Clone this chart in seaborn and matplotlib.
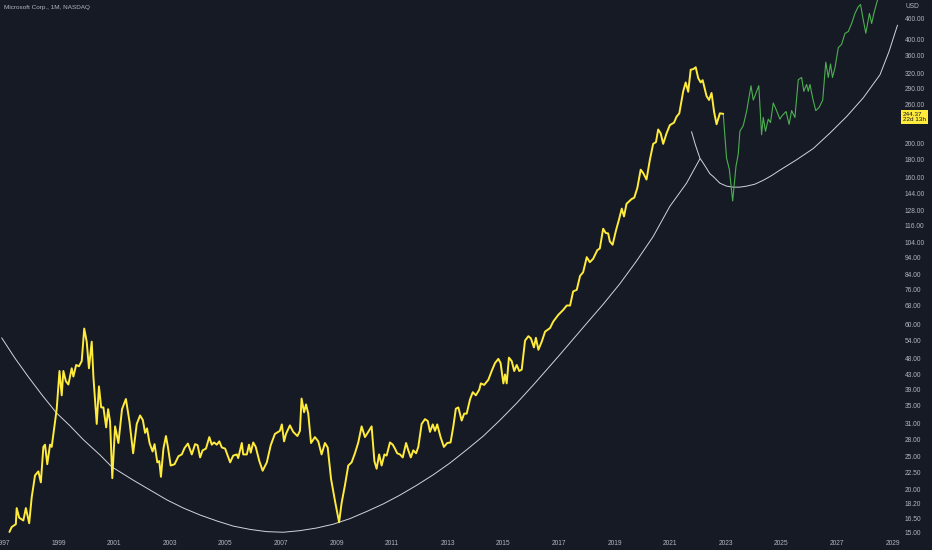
import seaborn as sns
import matplotlib.pyplot as plt
from matplotlib.ticker import NullLocator

# MSFT monthly close, decimal years
msft_year = [1997.23, 1997.31, 1997.46, 1997.49, 1997.58, 1997.73, 1997.82, 1997.94, 1998.03, 1998.15,
             1998.27, 1998.36, 1998.45, 1998.51, 1998.59, 1998.69, 1998.75, 1998.93, 1999.03, 1999.11,
             1999.17, 1999.26, 1999.35, 1999.47, 1999.53, 1999.63, 1999.73, 1999.83, 1999.92, 2000.01,
             2000.09, 2000.19, 2000.25, 2000.37, 2000.45, 2000.53, 2000.61, 2000.71, 2000.78, 2000.85,
             2000.93, 2001.03, 2001.15, 2001.28, 2001.42, 2001.55, 2001.68, 2001.81, 2001.93, 2002.03,
             2002.11, 2002.18, 2002.27, 2002.38, 2002.45, 2002.55, 2002.62, 2002.68, 2002.77, 2002.86,
             2002.93, 2003.03, 2003.17, 2003.31, 2003.43, 2003.53, 2003.65, 2003.79, 2003.91, 2004.00,
             2004.09, 2004.18, 2004.30, 2004.42, 2004.51, 2004.59, 2004.69, 2004.78, 2004.87, 2004.99,
             2005.17, 2005.28, 2005.41, 2005.46, 2005.59, 2005.64, 2005.77, 2005.85, 2005.91, 2006.00,
             2006.09, 2006.22, 2006.34, 2006.49, 2006.63, 2006.78, 2006.96, 2007.03, 2007.11, 2007.18,
             2007.32, 2007.44, 2007.59, 2007.68, 2007.74, 2007.83, 2007.90, 2007.98, 2008.08, 2008.22,
             2008.34, 2008.46, 2008.58, 2008.68, 2008.80, 2008.94, 2009.09, 2009.18, 2009.30, 2009.42,
             2009.54, 2009.66, 2009.78, 2009.90, 2010.02, 2010.14, 2010.26, 2010.36, 2010.44, 2010.53,
             2010.62, 2010.72, 2010.80, 2010.92, 2011.02, 2011.10, 2011.18, 2011.28, 2011.38, 2011.50,
             2011.58, 2011.67, 2011.76, 2011.86, 2011.94, 2012.06, 2012.18, 2012.28, 2012.36, 2012.46,
             2012.54, 2012.62, 2012.74, 2012.86, 2012.98, 2013.10, 2013.20, 2013.29, 2013.38, 2013.50,
             2013.59, 2013.68, 2013.80, 2013.90, 2014.01, 2014.13, 2014.19, 2014.31, 2014.46, 2014.58,
             2014.70, 2014.82, 2014.90, 2015.00, 2015.06, 2015.12, 2015.20, 2015.30, 2015.39, 2015.48,
             2015.57, 2015.66, 2015.78, 2015.90, 2015.99, 2016.10, 2016.17, 2016.26, 2016.38, 2016.50,
             2016.68, 2016.79, 2016.97, 2017.15, 2017.28, 2017.40, 2017.51, 2017.64, 2017.76, 2017.87,
             2018.00, 2018.11, 2018.23, 2018.38, 2018.47, 2018.59, 2018.68, 2018.77, 2018.83, 2018.93,
             2019.05, 2019.16, 2019.26, 2019.34, 2019.43, 2019.61, 2019.71, 2019.82, 2019.94, 2020.03,
             2020.15, 2020.27, 2020.39, 2020.49, 2020.57, 2020.66, 2020.75, 2020.87, 2020.99, 2021.14,
             2021.23, 2021.33, 2021.47, 2021.56, 2021.65, 2021.74, 2021.83, 2021.92, 2022.01, 2022.10,
             2022.17, 2022.31, 2022.40, 2022.49, 2022.58, 2022.67, 2022.79, 2022.91]
msft_price = [15.1, 15.6, 15.9, 17.7, 16.6, 16.3, 17.7, 16.0, 19.0, 22.0,
              22.6, 21.0, 26.6, 27.0, 23.7, 27.0, 26.6, 34.2, 44.1, 37.5,
              44.1, 41.2, 40.3, 44.9, 42.5, 45.9, 45.5, 47.1, 58.5, 53.6,
              44.9, 53.6, 42.5, 31.0, 39.8, 34.6, 34.6, 30.3, 34.2, 31.5,
              21.6, 30.5, 27.3, 34.2, 36.6, 31.4, 25.5, 31.0, 32.8, 31.8,
              29.2, 30.1, 27.3, 25.8, 27.1, 24.0, 24.2, 21.8, 26.3, 28.6,
              26.6, 23.5, 23.7, 25.0, 25.3, 26.4, 27.2, 25.3, 27.1, 26.9,
              24.8, 26.0, 26.3, 28.4, 27.0, 27.4, 27.0, 27.6, 26.5, 26.3,
              24.0, 25.1, 25.3, 24.7, 27.3, 25.3, 25.3, 27.0, 25.6, 27.4,
              26.6, 24.2, 22.7, 24.0, 26.9, 29.0, 29.6, 30.9, 27.6, 29.0,
              30.7, 29.4, 28.6, 29.6, 36.7, 33.5, 35.3, 33.2, 27.3, 28.4,
              27.6, 25.3, 27.3, 26.5, 21.5, 18.6, 16.1, 18.3, 20.6, 23.5,
              24.0, 25.5, 27.4, 30.5, 28.4, 29.4, 30.5, 24.2, 23.0, 25.3,
              23.5, 25.3, 25.1, 27.4, 27.0, 26.3, 25.5, 25.3, 24.8, 27.3,
              26.0, 24.8, 26.0, 25.5, 26.6, 31.0, 32.0, 31.6, 29.4, 30.9,
              29.6, 30.9, 28.4, 26.6, 27.3, 27.4, 30.5, 34.3, 34.6, 31.7,
              33.2, 33.2, 36.5, 38.3, 37.5, 38.9, 40.6, 40.2, 41.6, 44.1,
              46.5, 47.8, 46.5, 40.6, 43.1, 40.6, 48.2, 47.1, 44.1, 45.9,
              44.1, 44.5, 54.0, 55.6, 54.8, 51.6, 55.0, 50.8, 53.6, 57.3,
              58.7, 61.2, 64.0, 66.2, 68.2, 68.2, 74.9, 75.7, 83.1, 85.1,
              94.1, 91.0, 93.1, 98.6, 99.7, 113.7, 110.6, 110.2, 104.5, 102.2,
              112.3, 120.9, 130.0, 123.4, 134.2, 138.5, 139.9, 149.2, 168.5, 164.8,
              157.8, 179.8, 200.1, 202.4, 220.2, 214.5, 200.1, 214.5, 226.7, 230.5,
              239.7, 245.2, 283.9, 301.2, 283.0, 327.9, 329.0, 333.2, 310.0, 301.2,
              305.8, 275.0, 268.0, 280.8, 248.0, 228.0, 245.2, 244.37]

# projected path (green)
proj_year = [2022.91, 2023.03, 2023.13, 2023.25, 2023.37, 2023.45, 2023.51, 2023.63, 2023.75, 2023.91,
             2023.99, 2024.09, 2024.19, 2024.29, 2024.35, 2024.43, 2024.53, 2024.61, 2024.71, 2024.83,
             2024.95, 2025.03, 2025.17, 2025.28, 2025.37, 2025.49, 2025.61, 2025.73, 2025.81, 2025.91,
             2025.97, 2026.03, 2026.13, 2026.24, 2026.36, 2026.49, 2026.60, 2026.69, 2026.77, 2026.84,
             2026.93, 2027.05, 2027.17, 2027.29, 2027.41, 2027.53, 2027.65, 2027.77, 2027.85, 2027.95,
             2028.04, 2028.17, 2028.25, 2028.33, 2028.43, 2028.52]
proj_price = [244.37, 182, 168.8, 136.8, 172.6, 186.8, 217.6, 225.9, 248.2, 294.7,
              267.9, 280.8, 294.7, 212.5, 238.6, 217.6, 235.9, 230.5, 262.7, 249.7,
              235.9, 241.5, 248.2, 227.8, 249.7, 238.6, 306.8, 311.3, 283.9, 297.2,
              283.9, 297.2, 271, 249.7, 255, 267.9, 344.9, 311.3, 340.7, 311.3,
              331.9, 379.7, 388.4, 417.6, 422.8, 446, 477, 499, 506, 456,
              418, 477, 446, 477, 511, 540]

# the two drawn arcs
arc1_year = [1996.95, 1997.43, 1997.91, 1998.40, 1998.93, 1999.41, 1999.89, 2000.49, 2000.91, 2001.69,
             2002.89, 2003.49, 2004.09, 2004.69, 2005.28, 2005.90, 2006.49, 2007.08, 2007.68, 2008.28,
             2008.88, 2009.48, 2010.08, 2010.68, 2011.28, 2011.88, 2012.48, 2013.08, 2013.68, 2014.28,
             2014.88, 2015.48, 2016.08, 2016.97, 2018.00, 2018.60, 2019.19, 2019.79, 2020.39, 2020.99,
             2021.59, 2022.07]
arc1_price = [55, 48.0, 42.4, 37.6, 33.3, 30.6, 27.9, 25.2, 23.3, 21.3,
              18.7, 17.7, 16.9, 16.25, 15.7, 15.35, 15.13, 15.07, 15.23, 15.5,
              15.9, 16.5, 17.3, 18.2, 19.3, 20.6, 22.1, 23.9, 26.1, 28.6,
              31.8, 35.6, 40.2, 48.5, 60.6, 68.9, 78.8, 91.7, 108, 132,
              154, 181]
arc2_year = [2021.77, 2021.91, 2022.07, 2022.19, 2022.31, 2022.43, 2022.55, 2022.79, 2023.03, 2023.27,
             2023.51, 2023.75, 2024.05, 2024.35, 2024.65, 2024.95, 2025.55, 2026.15, 2026.75, 2027.35,
             2027.95, 2028.55, 2028.87, 2029.18]
arc2_price = [217, 198.6, 182, 176, 170, 164, 161, 154, 151, 150,
              150, 151, 153, 157, 162, 168, 180, 194, 215, 240,
              272, 317, 369, 441]

year_ticks = list(range(1997, 2030, 2))
price_ticks = [15, 16.5, 18.2, 20, 22.5, 25, 28, 31, 35, 39, 43, 48, 54, 60, 68, 76, 84, 94,
               104, 116, 128, 144, 160, 180, 200, 260, 290, 320, 360, 400, 460]
last_price = 244.37

bg = '#161a25'
txt = '#b2b5be'

sns.set_theme(style="dark", rc={'axes.facecolor': bg, 'figure.facecolor': bg})
plt.rcParams['font.family'] = ['Liberation Sans', 'DejaVu Sans']

fig = plt.figure(figsize=(9.32, 5.5), dpi=100)
ax = fig.add_axes([0, 13 / 550, 900 / 932, 537 / 550])

sns.lineplot(x=arc1_year, y=arc1_price, ax=ax, color='#d1d4dc', lw=0.7, sort=False)
sns.lineplot(x=arc2_year, y=arc2_price, ax=ax, color='#d1d4dc', lw=0.7, sort=False)
sns.lineplot(x=proj_year, y=proj_price, ax=ax, color='#4caf50', lw=0.8, sort=False)
sns.lineplot(x=msft_year, y=msft_price, ax=ax, color='#ffeb3b', lw=1.4, sort=False)

ax.set_yscale('log')
ax.set_xlim(1996.89, 2029.27)
ax.set_ylim(14.6, 521.5)
ax.set_xlabel('')
ax.set_ylabel('')
for s in ax.spines.values():
    s.set_visible(False)

ax.set_xticks(year_ticks)
ax.set_xticklabels([str(y) for y in year_ticks])
ax.yaxis.tick_right()
ax.set_yticks(price_ticks)
ax.set_yticklabels([f"{p:.2f}" for p in price_ticks])
ax.yaxis.set_minor_locator(NullLocator())
ax.tick_params(axis='x', length=0, pad=2.5, labelsize=4.8, colors=txt)
ax.tick_params(axis='y', length=0, pad=3.5, labelsize=4.8, colors=txt)
ax.grid(False)

ax.annotate(f"{last_price:.2f}\n22d 13h", xy=(1, last_price),
            xycoords=('axes fraction', 'data'), xytext=(2.2, -2.3),
            textcoords='offset points', ha='left', va='center',
            fontsize=4.6, color='#131722', linespacing=1.1,
            bbox=dict(boxstyle='square,pad=0.3', fc='#ffeb3b', ec='none'),
            annotation_clip=False)

fig.text(4 / 932, 1 - 7 / 550, "Microsoft Corp., 1M, NASDAQ", ha='left', va='center',
         fontsize=4.6, color=txt)
fig.text(905 / 932, 1 - 6 / 550, "USD", ha='left', va='center', fontsize=4.8, color=txt)

fig.savefig('out.png', dpi=100, facecolor=bg)
